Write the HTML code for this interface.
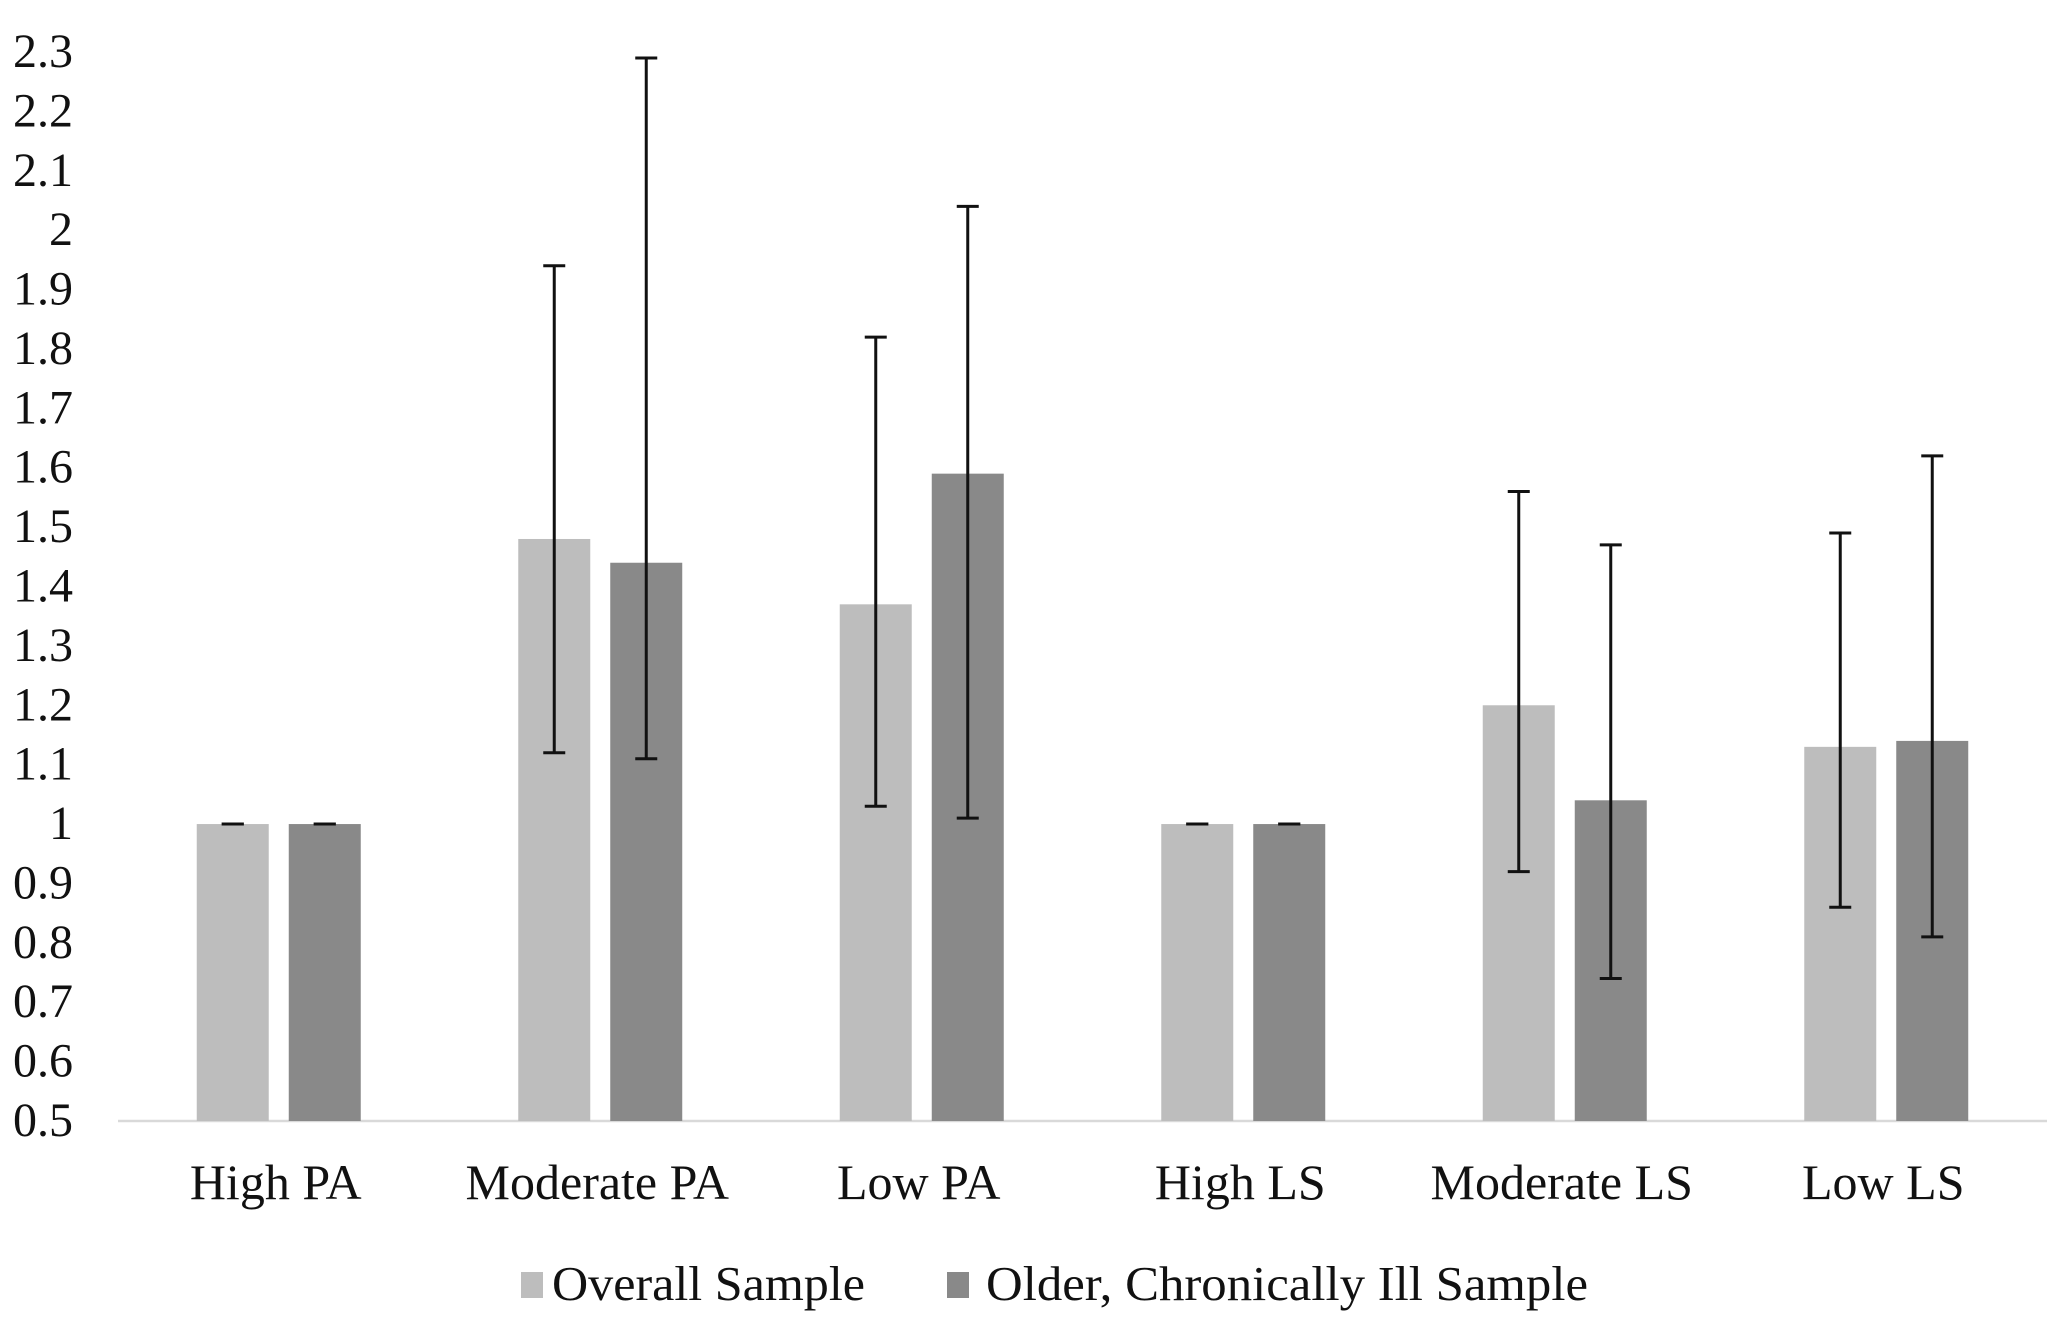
<!DOCTYPE html>
<html><head><meta charset="utf-8"><style>
html,body{margin:0;padding:0;background:#fff;}
svg{display:block;font-family:"Liberation Serif",serif;}
</style></head><body>
<svg id="chart" width="2055" height="1320" viewBox="0 0 2055 1320">
<g id="yaxis"></g>
<line x1="118" y1="1121" x2="2047" y2="1121" stroke="#d9d9d9" stroke-width="2.5"/>
<g id="bars"></g>
<g id="xaxis"></g>
<g>
  <rect x="521" y="1272" width="22" height="26" fill="#bdbdbd"/>
  <text x="552" y="1300" font-size="49" fill="#111" textLength="313" lengthAdjust="spacingAndGlyphs">Overall Sample</text>
  <rect x="947" y="1272" width="22" height="26" fill="#898989"/>
  <text x="986" y="1300" font-size="49" fill="#111" textLength="602" lengthAdjust="spacingAndGlyphs">Older, Chronically Ill Sample</text>
</g>
</svg>
<script>
const categories = ["High PA","Moderate PA","Low PA","High LS","Moderate LS","Low LS"];
const overallValues = [1.0,1.48,1.37,1.0,1.20,1.13];
const overallLow = [1.0,1.12,1.03,1.0,0.92,0.86];
const overallHigh = [1.0,1.94,1.82,1.0,1.56,1.49];
const olderValues = [1.0,1.44,1.59,1.0,1.04,1.14];
const olderLow = [1.0,1.11,1.01,1.0,0.74,0.81];
const olderHigh = [1.0,2.29,2.04,1.0,1.47,1.62];
const yTicks = ["0.5","0.6","0.7","0.8","0.9","1","1.1","1.2","1.3","1.4","1.5","1.6","1.7","1.8","1.9","2","2.1","2.2","2.3"];

const NS="http://www.w3.org/2000/svg";
const x0=118,x1=2047,yMin=0.5,yMax=2.3,py0=1121,py1=52;
const band=(x1-x0)/categories.length;
function y(v){return py0-(v-yMin)/(yMax-yMin)*(py0-py1);}
function xc(i){return x0+band*(i+0.5);}
function mk(tag,attrs,parent){const e=document.createElementNS(NS,tag);for(const k in attrs)e.setAttribute(k,attrs[k]);parent.appendChild(e);return e;}

const ya=document.getElementById('yaxis');
yTicks.forEach(t=>{
  const e=mk('text',{x:73,y:y(parseFloat(t))+15,'text-anchor':'end','font-size':48,fill:'#111'},ya);
  
  
  e.textContent=t;
});
const xa=document.getElementById('xaxis');
categories.forEach((c,i)=>{
  const e=mk('text',{x:xc(i)-3,y:1199,'text-anchor':'middle','font-size':50,fill:'#111'},xa);
  
  
  e.textContent=c;
});
const bg=document.getElementById('bars');
const bw=72,gap=20;
function series(vals,lo,hi,color,offset,name){
  vals.forEach((v,i)=>{
    const cx=xc(i)+offset;
    const r=mk('rect',{x:cx-bw/2,y:y(v),width:bw,height:py0-y(v),fill:color},bg);
    
    
    const g=mk('g',{stroke:'#111','stroke-width':3},bg);
    
    
    mk('line',{x1:cx,x2:cx,y1:y(lo[i]),y2:y(hi[i])},g);
    mk('line',{x1:cx-11,x2:cx+11,y1:y(lo[i]),y2:y(lo[i])},g);
    mk('line',{x1:cx-11,x2:cx+11,y1:y(hi[i]),y2:y(hi[i])},g);
  });
}
series(overallValues,overallLow,overallHigh,'#bdbdbd',-(bw+gap)/2,'overall');
series(olderValues,olderLow,olderHigh,'#898989',(bw+gap)/2,'older');
</script>
</body></html>
